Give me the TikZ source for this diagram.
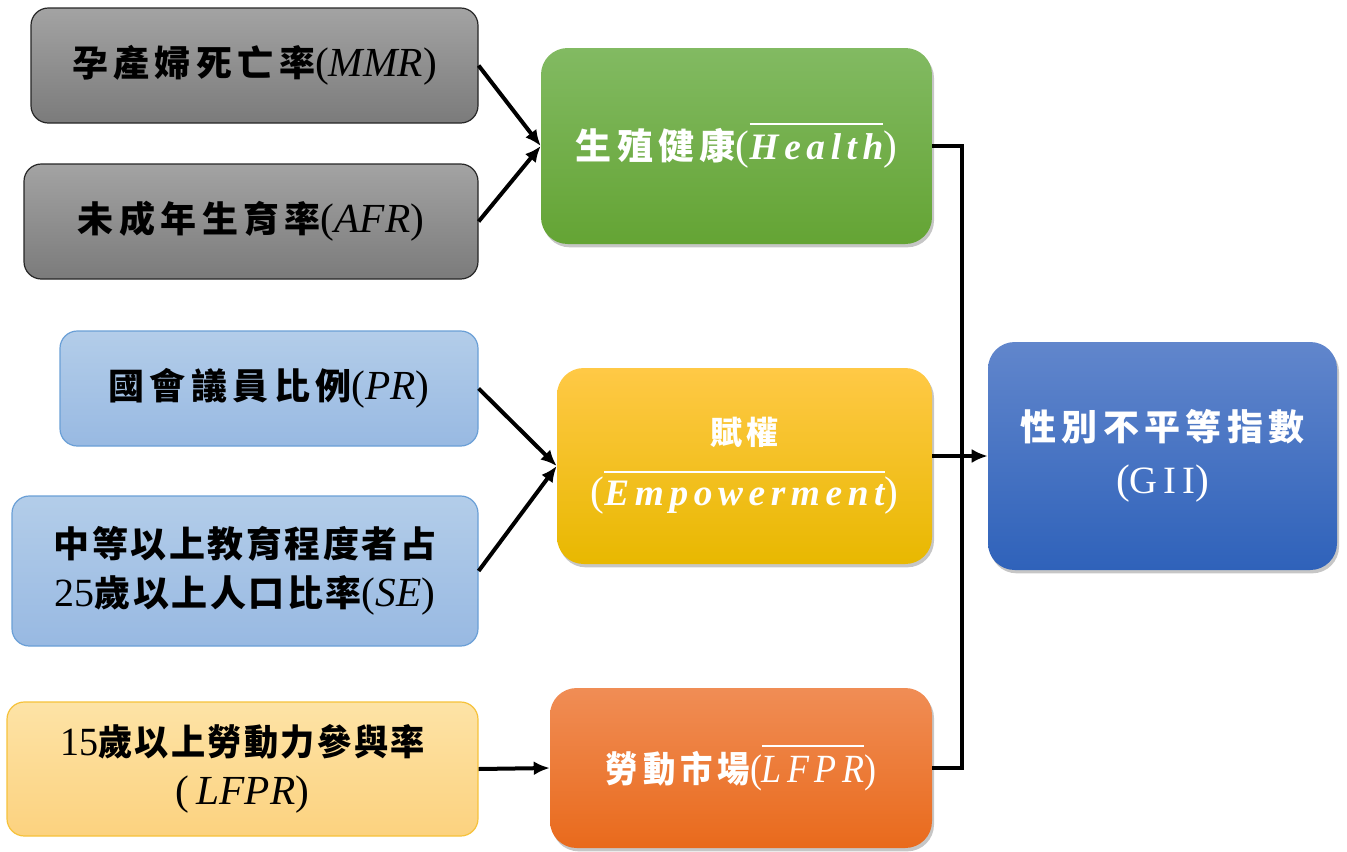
\documentclass[tikz,border=0pt]{standalone}
\usepackage{fontspec}
\setmainfont{Liberation Serif}
\newfontfamily\cjk[LetterSpace=15]{Noto Sans CJK TC}
\newfontfamily\cjkt[LetterSpace=7]{Noto Sans CJK TC}
\newfontfamily\latsp[LetterSpace=15]{Liberation Serif}
\usetikzlibrary{shadows,arrows.meta}
\newcommand\cj[1]{{\cjk\bfseries #1}}
\newcommand\cjt[1]{{\cjkt\bfseries #1}}
\newcommand\li[1]{{\fontsize{31}{36}\selectfont(\textit{#1})}}
\newcommand\dg[1]{{\fontsize{30}{36}\selectfont #1}}
\newcommand\pl[1]{{\fontsize{31}{36}\selectfont #1}}
\newsavebox\ovbox
\newcommand\ovl[1]{\sbox\ovbox{#1}\rlap{\rule[\dimexpr\ht\ovbox+6.5pt\relax]{\wd\ovbox}{1.6pt}}\usebox\ovbox}
\definecolor{grayT}{HTML}{A3A3A3}
\definecolor{grayB}{HTML}{7B7B7B}
\definecolor{lblueT}{HTML}{B3CDE9}
\definecolor{lblueB}{HTML}{98B9E2}
\definecolor{lblueD}{HTML}{6A9FD6}
\definecolor{lorT}{HTML}{FDE3A6}
\definecolor{lorB}{HTML}{FCD27F}
\definecolor{lorD}{HTML}{F6C23A}
\definecolor{grnT}{HTML}{82BA62}
\definecolor{grnB}{HTML}{64A434}
\definecolor{ylwT}{HTML}{FFC946}
\definecolor{ylwB}{HTML}{E8B800}
\definecolor{orgT}{HTML}{F08D55}
\definecolor{orgB}{HTML}{E96A1C}
\definecolor{giiT}{HTML}{6186CC}
\definecolor{giiB}{HTML}{2F62BA}
\tikzset{
  sz/.style 2 args={minimum width=#1*0.75pt, minimum height=#2*0.75pt},
  inbox/.style={rectangle, rounded corners=13pt, line width=0.9pt, align=center,
    inner sep=0pt, text=black, font=\fontsize{27}{37}\selectfont},
  grayb/.style={inbox, draw=black!85, top color=grayT, bottom color=grayB},
  blueb/.style={inbox, draw=lblueD, top color=lblueT, bottom color=lblueB},
  lorb/.style={inbox, draw=lorD, top color=lorT, bottom color=lorB},
  midbox/.style={rectangle, rounded corners=20pt, align=center, inner sep=0pt,
    text=white, font=\fontsize{27}{40}\selectfont,
    drop shadow={opacity=0.45, shadow xshift=1.5pt, shadow yshift=-2.5pt}},
  conn/.style={line width=3pt, -{Latex[length=12pt,width=10.5pt]}},
  bus/.style={line width=3pt}
}
\begin{document}
\begin{tikzpicture}[x=0.75pt,y=-0.75pt]
\useasboundingbox (0,0) rectangle (1347,851);
% left boxes
\node[grayb, sz={447}{115}] (mmr) at (254.5,65.5) {\cj{孕產婦死亡率}\li{MMR}};
\node[grayb, sz={454}{115}] (afr) at (251,221.5) {\cj{未成年生育率}\li{AFR}};
\node[blueb, sz={418}{115}] (pr) at (269,388.5) {\cj{國會議員比例}\li{PR}};
\node[blueb, sz={466}{150}] (se) at (245,571)
  {\cjt{中等以上教育程度者占}\\\dg{25}\cjt{歲以上人口比率}\li{SE}};
\node[lorb, sz={471}{134}] (lfpr) at (242.5,769)
  {\scalebox{0.95}[1]{\dg{15}\cjt{歲以上勞動力參與率}}\\\li{\,LFPR}};
% middle boxes
\node[midbox, top color=grnT, bottom color=grnB, sz={391}{196}] (health) at (736.5,146)
  {\cj{生殖健康}\pl{(}\ovl{\fontsize{28}{36}\latsp\bfseries\itshape Health}\pl{)}};
\node[midbox, top color=ylwT, bottom color=ylwB, sz={375}{196}] (emp) at (744.5,466)
  {{\fontsize{24}{30}\selectfont\cj{賦權}}\\[6pt]\pl{(}\ovl{\fontsize{28}{36}\latsp\bfseries\itshape Empowerment}\pl{)}};
\node[midbox, top color=orgT, bottom color=orgB, sz={382}{160}] (labor) at (741,768)
  {\scalebox{0.9}[1]{\cj{勞動市場}{\fontsize{30}{36}\selectfont(\ovl{\latsp\itshape LFPR})}}};
% GII
\node[midbox, top color=giiT, bottom color=giiB, sz={349}{228}] (gii) at (1162.5,456)
  {\cj{性別不平等指數}\\\pl{(}{\fontsize{29}{36}\latsp GII}\pl{)}};
% connectors
\draw[conn] (mmr.east) -- (health.west);
\draw[conn] (afr.east) -- (health.west);
\draw[conn] (pr.east) -- (emp.west);
\draw[conn] (se.east) -- (emp.west);
\draw[conn] (lfpr.east) -- (labor.west);
\coordinate (bb) at (962,768);
\draw[bus] (health.east) -| (bb) -- (labor.east);
\draw[conn] (emp.east |- gii.west) -- (gii.west);
\end{tikzpicture}
\end{document}
